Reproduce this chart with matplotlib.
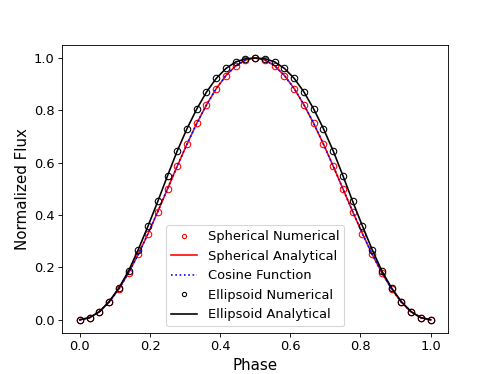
import numpy as np
import matplotlib
matplotlib.use("Agg")
import matplotlib.pyplot as plt

plt.rcParams['font.size'] = 12

# phase sampled in 10 degree steps (37 points)
phase = np.arange(37) / 36.0

# left half (0 .. 0.5), curves are symmetric about 0.5
spherical_half = [0.0, 0.008, 0.030, 0.067, 0.117, 0.179, 0.250, 0.329, 0.413,
                  0.500, 0.587, 0.671, 0.750, 0.821, 0.883, 0.933, 0.970, 0.992, 1.0]
ellipsoid_half = [0.0, 0.008, 0.031, 0.069, 0.121, 0.186, 0.268, 0.358, 0.452,
                  0.550, 0.645, 0.730, 0.805, 0.870, 0.922, 0.960, 0.985, 0.997, 1.0]

spherical = np.array(spherical_half + spherical_half[-2::-1])
ellipsoid = np.array(ellipsoid_half + ellipsoid_half[-2::-1])

fig, ax = plt.subplots(figsize=(498 / 78, 374 / 78), dpi=78)

# spherical star
ax.plot(phase, spherical, 'o', color='red', markerfacecolor='none', label='Spherical Numerical')
ax.plot(phase, spherical, '-', color='red', label='Spherical Analytical')
ax.plot(phase, spherical, ':', color='blue', label='Cosine Function')

# ellipsoidal star
ax.plot(phase, ellipsoid, 'o', color='black', markerfacecolor='none', label='Ellipsoid Numerical')
ax.plot(phase, ellipsoid, '-', color='black', label='Ellipsoid Analytical')

ax.set_xlabel('Phase', fontsize=14)
ax.set_ylabel('Normalized Flux', fontsize=14)
ax.legend(loc='lower center', fontsize=12, markerscale=0.65)

fig.savefig('out.png', dpi=78)
